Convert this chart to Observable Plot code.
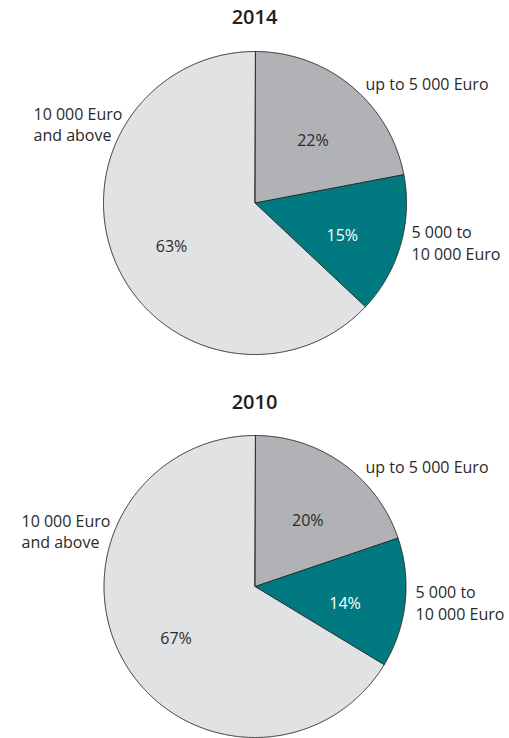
<!DOCTYPE html>
<html><head><meta charset="utf-8">
<script src="https://cdn.jsdelivr.net/npm/d3@7"></script>
<script src="https://cdn.jsdelivr.net/npm/@observablehq/plot@0.6"></script>
<style>
body{margin:0;background:#fff;font-family:"Open Sans",sans-serif;color:#231f20}
#chart{position:relative;width:509px;height:738px;overflow:hidden}
.title{position:absolute;left:0;width:509px;text-align:center;font-weight:600;font-size:20px;line-height:20px;color:#231f20}
.pie{position:absolute;left:0}
</style></head><body><div id="chart"></div>
<script>
// ---- data ----
const categories = ["up to 5 000 Euro", "5 000 to\n10 000 Euro", "10 000 Euro\nand above"];
const years = ["2014", "2010"];
const shares2014 = [22, 15, 63];
const shares2010 = [20, 14, 67];

// ---- styles / layout ----
const palette = ["#b1b2b5", "#007a80", "#e1e2e4"];
const percentColors = ["#2a2a2a", "#ffffff", "#2a2a2a"];
const W = 509;
const layout = [
  {titleTop: 7, top: 40, height: 345, cx: 254.5, cy: 162.5, R: 151.5,
   outer: [[110.5, -119.5], [156.5, 39], [-221.5, -79.5]]},
  {titleTop: 392, top: 425, height: 313, cx: 254.5, cy: 161, R: 151,
   outer: [[110.5, -120], [160.5, 15.5], [-233.5, -56]]}
];

const chart = document.getElementById("chart");

function drawPie(year, shares, L) {
  const t = document.createElement("div");
  t.className = "title";
  t.style.top = L.titleTop + "px";
  t.textContent = year;
  chart.appendChild(t);

  const arcs = d3.pie().sort(null)(shares);
  const pts = [];
  const pct = [];
  const outer = [];
  arcs.forEach((a, i) => {
    pts.push({cat: categories[i], x: 0, y: 0});
    const n = Math.max(2, Math.ceil((a.endAngle - a.startAngle) / 0.005));
    for (let k = 0; k <= n; k++) {
      const th = a.startAngle + (a.endAngle - a.startAngle) * k / n;
      pts.push({cat: categories[i], x: Math.sin(th), y: -Math.cos(th)});
    }
    const mid = (a.startAngle + a.endAngle) / 2;
    pct.push({i, x: 0.6 * Math.sin(mid), y: -0.6 * Math.cos(mid), text: shares[i] + "%"});
    outer.push({x: L.outer[i][0] / L.R, y: L.outer[i][1] / L.R, text: categories[i]});
  });

  const plot = Plot.plot({
    width: W, height: L.height,
    margin: 0,
    style: {fontFamily: '"Open Sans", sans-serif', background: "transparent"},
    x: {domain: [-L.cx / L.R, (W - L.cx) / L.R], range: [0, W], axis: null},
    y: {domain: [-L.cy / L.R, (L.height - L.cy) / L.R], range: [0, L.height], axis: null},
    color: {domain: categories, range: palette},
    marks: [
      Plot.line(pts, {x: "x", y: "y", z: "cat", fill: "cat", stroke: "#2a2a2a", strokeWidth: 1, curve: "linear-closed", strokeLinejoin: "round"}),
      Plot.text(pct.filter(d => percentColors[d.i] !== "#ffffff"), {x: "x", y: "y", text: "text", fill: "#2a2a2a", fontSize: 16, dy: 8}),
      Plot.text(pct.filter(d => percentColors[d.i] === "#ffffff"), {x: "x", y: "y", text: "text", fill: "#ffffff", fontSize: 16, dy: 8, fontWeight: 500}),
      Plot.text(outer, {x: "x", y: "y", text: "text", fill: "#2a2a2a", fontSize: 16, textAnchor: "start", lineHeight: 1.35})
    ]
  });
  plot.classList.add("pie");
  plot.style.top = L.top + "px";
  chart.appendChild(plot);
}

drawPie(years[0], shares2014, layout[0]);
drawPie(years[1], shares2010, layout[1]);
</script></body></html>
